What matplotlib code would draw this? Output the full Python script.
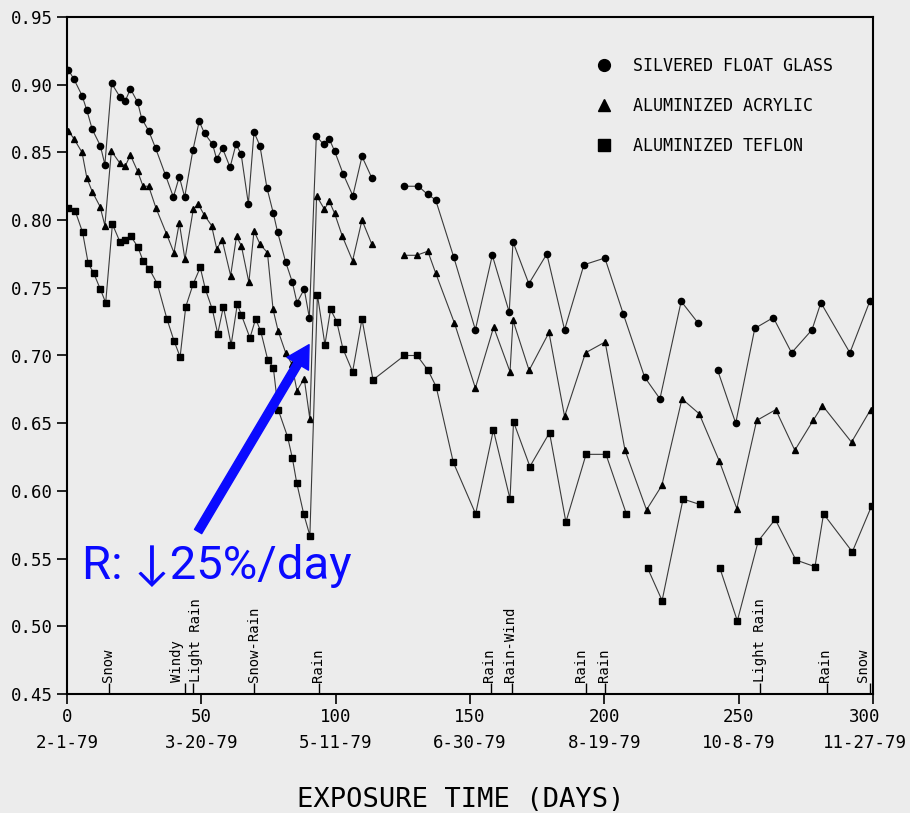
import matplotlib
matplotlib.use("Agg")
import matplotlib.pyplot as plt
import matplotlib.transforms as mtransforms
from matplotlib.lines import Line2D
import numpy as np

nan = np.nan

# ---------------- data ----------------
glass_days = [0.5, 2.6, 5.6, 7.4, 9.4, 12.4, 14.1, 16.6, 19.7, 21.7, 23.6, 26.3, 27.8,
              30.4, 33.0, 36.7, 39.6, 41.8, 43.8, 46.9, 49.2, 51.2, 54.2, 55.7, 57.9,
              60.7, 62.9, 64.8, 67.5, 69.6, 71.8, 74.4, 76.8, 78.4, 81.4, 83.9, 85.6,
              88.3, 90.2, 92.8, 95.5, 97.6, 99.6, 102.8, 106.4, 109.8, 113.5, 119.0,
              125.4, 130.8, 134.2, 137.2, 143.9, 152.0, 158.3, 164.6, 166.0, 171.9,
              178.6, 185.2, 192.4, 200.2, 207.0, 215.0, 220.7, 228.6, 234.9, 238.0,
              242.2, 248.9, 256.0, 262.9, 269.7, 277.3, 280.6, 291.4, 298.8]
glass_vals = [0.911, 0.904, 0.892, 0.881, 0.867, 0.855, 0.841, 0.901, 0.891, 0.888, 0.897,
              0.887, 0.875, 0.866, 0.853, 0.833, 0.817, 0.832, 0.817, 0.852, 0.873, 0.864,
              0.856, 0.845, 0.853, 0.839, 0.856, 0.849, 0.812, 0.865, 0.855, 0.824, 0.805,
              0.791, 0.769, 0.754, 0.739, 0.749, 0.728, 0.862, 0.856, 0.860, 0.851, 0.834,
              0.818, 0.847, 0.831, nan, 0.825, 0.825, 0.819, 0.815, 0.773, 0.719, 0.774,
              0.732, 0.784, 0.753, 0.775, 0.719, 0.767, 0.772, 0.731, 0.684, 0.668, 0.740,
              0.724, nan, 0.689, 0.650, 0.720, 0.728, 0.702, 0.719, 0.739, 0.702, 0.740]

acrylic_days = [0.5, 2.6, 5.6, 7.4, 9.4, 12.3, 14.1, 16.5, 19.7, 21.7, 23.6, 26.3, 28.3,
                30.4, 33.1, 37.0, 39.8, 41.8, 43.9, 47.0, 48.8, 51.0, 53.8, 55.7, 57.8,
                60.9, 63.1, 64.9, 67.7, 69.6, 71.9, 74.6, 76.7, 78.6, 81.4, 83.6, 85.6,
                88.3, 90.4, 92.9, 95.8, 97.6, 99.6, 102.5, 106.3, 109.8, 113.5, 119.0,
                125.3, 130.1, 134.3, 137.2, 144.2, 152.0, 158.8, 164.9, 166.0, 172.0,
                179.4, 185.2, 193.0, 200.3, 207.7, 215.7, 221.4, 228.9, 235.3, 242.8,
                249.3, 256.7, 263.8, 270.9, 277.7, 281.2, 292.0, 299.1]
acrylic_vals = [0.866, 0.860, 0.850, 0.831, 0.821, 0.810, 0.796, 0.851, 0.842, 0.840, 0.848,
                0.836, 0.825, 0.825, 0.809, 0.790, 0.776, 0.798, 0.771, 0.808, 0.812, 0.804,
                0.796, 0.779, 0.785, 0.759, 0.788, 0.781, 0.754, 0.792, 0.782, 0.776, 0.734,
                0.718, 0.702, 0.694, 0.674, 0.683, 0.653, 0.818, 0.808, 0.814, 0.805, 0.788,
                0.770, 0.800, 0.782, nan, 0.774, 0.774, 0.777, 0.761, 0.724, 0.676, 0.721,
                0.688, 0.726, 0.689, 0.717, 0.655, 0.702, 0.710, 0.630, 0.586, 0.604, 0.668,
                0.657, 0.622, 0.587, 0.652, 0.660, 0.630, 0.652, 0.663, 0.636, 0.660]

teflon_days = [0.5, 3.0, 5.8, 7.9, 9.9, 12.4, 14.4, 16.9, 19.7, 21.7, 23.8, 26.4, 28.3,
               30.6, 33.6, 37.2, 39.8, 42.1, 44.2, 47.0, 49.6, 51.5, 54.1, 56.1, 58.2,
               61.1, 63.4, 64.9, 68.1, 70.2, 72.1, 74.7, 76.8, 78.6, 82.1, 83.9, 85.5,
               88.1, 90.4, 93.2, 96.0, 98.1, 100.4, 102.7, 106.3, 109.8, 113.9, 125.6,
               130.3, 134.4, 137.4, 143.8, 152.1, 158.7, 164.9, 166.2, 172.3, 179.6,
               185.7, 193.2, 200.6, 208.2, 212.0, 216.1, 221.5, 229.3, 235.5, 239.0,
               243.0, 249.5, 257.3, 263.6, 271.3, 278.4, 281.6, 292.3, 299.5]
teflon_vals = [0.809, 0.807, 0.791, 0.768, 0.761, 0.749, 0.739, 0.797, 0.784, 0.785, 0.788,
               0.780, 0.770, 0.764, 0.753, 0.727, 0.711, 0.699, 0.736, 0.753, 0.765, 0.749,
               0.734, 0.716, 0.736, 0.708, 0.738, 0.730, 0.713, 0.727, 0.718, 0.697, 0.691,
               0.660, 0.640, 0.624, 0.606, 0.583, 0.567, 0.745, 0.708, 0.734, 0.725, 0.705,
               0.688, 0.727, 0.682, 0.700, 0.700, 0.689, 0.677, 0.621, 0.583, 0.645, 0.594,
               0.651, 0.618, 0.643, 0.577, 0.627, 0.627, 0.583, nan, 0.543, 0.519, 0.594,
               0.590, nan, 0.543, 0.504, 0.563, 0.579, 0.549, 0.544, 0.583, 0.555, 0.589]

series_names = ["SILVERED FLOAT GLASS", "ALUMINIZED ACRYLIC", "ALUMINIZED TEFLON"]

x_ticks = [0, 50, 100, 150, 200, 250, 300]
x_ticklabels = ["0\n2-1-79", "50\n3-20-79", "100\n5-11-79", "150\n6-30-79",
                "200\n8-19-79", "250\n10-8-79", "300\n11-27-79"]
y_ticks = [0.45, 0.50, 0.55, 0.60, 0.65, 0.70, 0.75, 0.80, 0.85, 0.90, 0.95]

event_days = [15.7, 43.9, 47.0, 69.7, 93.7, 158.0, 165.5, 193.0, 200.3, 257.9, 283.0, 298.8]
event_labels = ["Snow", "Windy", "Light Rain", "Snow-Rain", "Rain", "Rain", "Rain-Wind",
                "Rain", "Rain", "Light Rain", "Rain", "Snow"]

annotation_text = "R: \u219325%/day"

# ---------------- layout / style ----------------
label_shift = [-0.4, -2.8, 1.2, -0.2, -0.4, -1.0, -0.6, -1.5, -0.6, 0.0, -0.8, -2.6]
BG = "#ececec"
MONO = "DejaVu Sans Mono"

fig = plt.figure(figsize=(9.1, 8.13), dpi=100, facecolor=BG)
ax = fig.add_axes([67 / 910, 1 - 694 / 813, (873 - 67) / 910, (694 - 17) / 813])
ax.set_facecolor(BG)

line_kw = dict(color="#3a3a3a", lw=0.8, markeredgecolor="black", markerfacecolor="black")
ax.plot(glass_days, glass_vals, marker="o", ms=4.5, **line_kw)
ax.plot(acrylic_days, acrylic_vals, marker="^", ms=5, **line_kw)
ax.plot(teflon_days, teflon_vals, marker="s", ms=5, **line_kw)

ax.set_xlim(0, 300)
ax.set_ylim(0.45, 0.95)
ax.tick_params(direction="out", length=7, width=1.2, color="black", pad=3)
ax.set_xticks(x_ticks)
xt = ax.set_xticklabels(x_ticklabels, family=MONO, fontsize=12.5, linespacing=1.6)
ax.set_yticks(y_ticks)
ax.set_yticklabels([f"{v:.2f}" for v in y_ticks], family=MONO, fontsize=12.5)
# nudge the last date label so it stays inside the figure
xt[-1].set_transform(xt[-1].get_transform() +
                     mtransforms.ScaledTranslation(-8 / 100, 0, fig.dpi_scale_trans))
for s in ax.spines.values():
    s.set_linewidth(1.5)
    s.set_color("black")

# weather events along the bottom axis
trans = mtransforms.blended_transform_factory(ax.transData, ax.transAxes)
ax.vlines(event_days, 0, 0.016, transform=trans, color="black", lw=1.0)
for d, lab, sh in zip(event_days, event_labels, label_shift):
    ax.annotate(lab, xy=(d + sh, 0), xycoords=trans, xytext=(0, 9),
                textcoords="offset points", rotation=90, ha="center", va="bottom",
                family=MONO, fontsize=10)

# legend
handles = [Line2D([], [], ls="none", marker=m, ms=8.5, color="black")
           for m in ["o", "^", "s"]]
ax.legend(handles, series_names, loc="upper left", bbox_to_anchor=(0.650, 0.951),
          frameon=False, prop={"family": MONO, "size": 12}, handlelength=0.8,
          handletextpad=1.35, labelspacing=1.33, borderaxespad=0)

# x axis title
fig.text(461 / 910, 1 - 800 / 813, "EXPOSURE TIME (DAYS)", ha="center", va="center",
         family=MONO, fontsize=19.5)

# blue annotation
ax.annotate("", xy=(90.1, 0.708), xytext=(48.8, 0.570),
            arrowprops=dict(arrowstyle="simple,head_width=1.8,head_length=1.6,tail_width=0.6",
                            mutation_scale=10, color="#0a0aff", shrinkA=0, shrinkB=0))
ax.text(5.5, 0.535, annotation_text, color="#0a0aff", fontsize=34, ha="left",
        va="baseline", family=["Roboto", "Lato", "DejaVu Sans"])

fig.savefig("out.png", dpi=100, facecolor=BG)
